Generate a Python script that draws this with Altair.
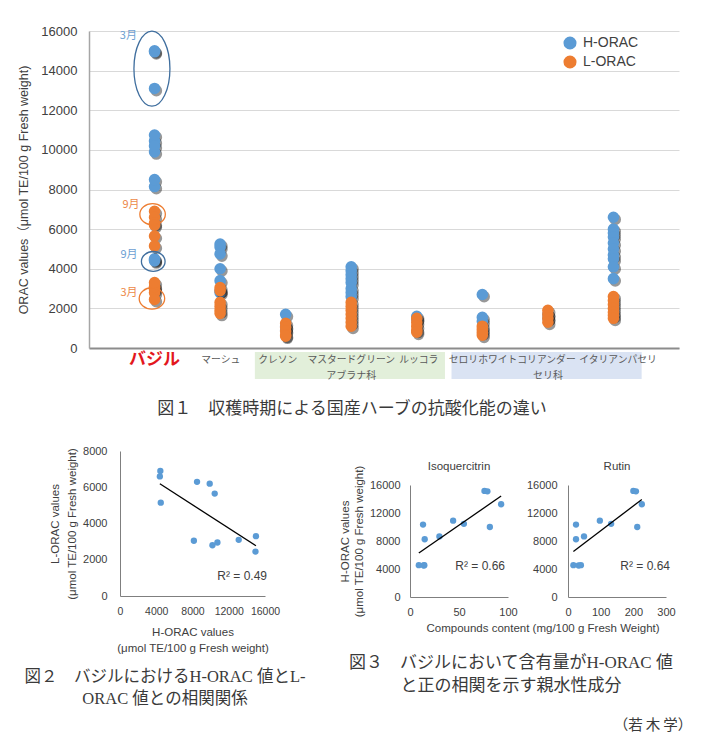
import altair as alt
import pandas as pd

# ---------------- Figure 1 data ----------------
categories = ["バジル", "マーシュ", "クレソン", "マスタードグリーン", "ルッコラ",
              "セロリ", "ホワイトコリアンダー", "イタリアンパセリ"]
# label centres (in category-index units), packed like the original text boxes
label_idx = [1.0, 2.01, 2.88, 4.0, 5.03, 5.71, 6.68, 8.07]
series_names = ["H-ORAC", "L-ORAC"]

basil_h = [4450, 4400, 4500, 8150, 8500, 9900, 10450, 10200, 10750, 13100, 15000, 14950]
basil_l = [6900, 6600, 5150, 3050, 6300, 6200, 5650, 2800, 2950, 3100, 3300, 2450]
marsh_h = [5250, 5100, 4750, 4000, 3400, 2900, 2800]
marsh_l = [3050, 2900, 2300, 2100, 1900, 1750]
cress_h = [1700, 1100, 900]
cress_l = [1250, 1050, 850, 650, 600]
mustard_h = [4100, 3900, 3700, 3500, 3300, 3000, 2800, 2600]
mustard_l = [2300, 2100, 1900, 1700, 1500, 1300, 1100]
rucola_h = [1600, 1450]
rucola_l = [1500, 1300, 1100, 900, 800]
celery_h = [2700, 1550, 1350]
celery_l = [1100, 950, 800, 650]
coriander_h = [1700, 1500]
coriander_l = [1900, 1700, 1500, 1300]
parsley_h = [6600, 6000, 5800, 5600, 5300, 5000, 4700, 4500, 4100, 3500]
parsley_l = [2600, 2400, 2200, 2000, 1800, 1650, 1500]

family_names = ["アブラナ科", "セリ科"]
family_first = [3, 6]
family_last = [5, 8]

# harvest-month annotations (basil)
ann_text = ["3月", "9月", "9月", "3月"]
ann_series = ["H-ORAC", "L-ORAC", "H-ORAC", "L-ORAC"]
ann_idx = [0.6, 0.64, 0.61, 0.61]
ann_value = [15750, 7220, 4690, 2780]
ell_kind = ["tall", "small", "small", "small"]
ell_idx = [0.96, 0.97, 0.98, 0.96]
ell_value = [14100, 6750, 4370, 2500]

# ---------------- Figure 2 / 3 data ----------------
fig3_h = [4550, 4500, 4550, 10350, 8250, 8650, 10900, 10450, 15150, 15100, 10000, 13250]
isoquercitrin = [9, 14, 14.6, 13.3, 15, 30, 44, 55, 76, 79, 81.5, 93]
rutin = [16.5, 32.5, 39.5, 24.5, 24.5, 49, 97.5, 132, 200, 208, 212, 226]
r2_labels = ["R² = 0.49", "R² = 0.66", "R² = 0.64"]

cap1 = "図１　収穫時期による国産ハーブの抗酸化能の違い"
cap2 = ["図２　バジルにおけるH-ORAC 値とL-", "ORAC 値との相関関係"]
cap3 = ["図３　バジルにおいて含有量がH-ORAC 値", "と正の相関を示す親水性成分"]
author = "（若\u2009木\u2009学）"

# ---------------- styles ----------------
LAT = "Liberation Sans, Noto Sans CJK JP"
JP = "Noto Sans CJK JP"
CAP = "Liberation Serif, Noto Sans CJK JP"
BLUE = "#5b9bd5"
ORANGE = "#ed7d31"
TXT = "#404040"

# ---------------- build fig1 table ----------------
h_lists = [basil_h, marsh_h, cress_h, mustard_h, rucola_h, celery_h, coriander_h, parsley_h]
l_lists = [basil_l, marsh_l, cress_l, mustard_l, rucola_l, celery_l, coriander_l, parsley_l]
rows = []
for i, name in enumerate(categories):
    for v in h_lists[i]:
        rows.append({"idx": i + 1, "herb": name, "series": "H-ORAC", "value": v})
for i, name in enumerate(categories):
    for v in l_lists[i]:
        rows.append({"idx": i + 1, "herb": name, "series": "L-ORAC", "value": v})
df1 = pd.DataFrame(rows)
cat_df = pd.DataFrame({"idx": list(range(1, len(categories) + 1)), "lx": label_idx, "name": categories})
fam_df = pd.DataFrame({"family": family_names, "first": family_first, "last": family_last})
ann_df = pd.DataFrame({"text": ann_text, "series": ann_series, "idx": ann_idx, "value": ann_value})
ell_df = pd.DataFrame({"kind": ell_kind, "series": ann_series, "idx": ell_idx, "value": ell_value})

x_axis_top = alt.Axis(labels=False, ticks=False, grid=False, title=None,
                      domainColor="#8c8c8c", domainWidth=2)
x_top = alt.X("idx:Q", scale=alt.Scale(domain=[0, 9]), axis=x_axis_top)
y_top = alt.Y("value:Q", scale=alt.Scale(domain=[0, 16000]),
              axis=alt.Axis(values=list(range(0, 16001, 2000)), format="d",
                            labelFont=LAT, labelFontSize=13, labelColor=TXT,
                            ticks=False, labelPadding=12, gridColor="#d9d9d9",
                            domainColor="#a6a6a6", domainWidth=1.5,
                            title="ORAC values（μmol TE/100 g Fresh weight)",
                            titleFont=LAT, titleFontSize=12.5, titleFontWeight="normal",
                            titleColor=TXT, titlePadding=10))
color_enc = alt.Color("series:N", scale=alt.Scale(domain=series_names, range=[BLUE, ORANGE]),
                      legend=alt.Legend(title=None, orient="none", legendX=474, legendY=5,
                                        labelFont=LAT, labelFontSize=14, labelColor=TXT,
                                        symbolType="circle", symbolSize=170, symbolStrokeWidth=0,
                                        symbolOpacity=1, rowPadding=5, padding=0, labelOffset=6))

base1 = alt.Chart(df1)
layers = []

# family boxes below the axis
fam_base = alt.Chart(fam_df).transform_calculate(x0="datum.first - 0.47", x1="datum.last + 0.43",
                                                 xm="(datum.first + datum.last) / 2")
for fam, col in zip(family_names, ["#e2efda", "#dae3f3"]):
    layers.append(fam_base.transform_filter(alt.datum.family == fam).mark_rect(color=col).encode(
        x=alt.X("x0:Q", scale=alt.Scale(domain=[0, 9]), axis=x_axis_top),
        x2="x1:Q", y=alt.value(321), y2=alt.value(348)))
layers.append(fam_base.mark_text(font=JP, fontSize=10, color="#595959", baseline="middle").encode(
    x=alt.X("xm:Q", scale=alt.Scale(domain=[0, 9]), axis=x_axis_top),
    y=alt.value(345), text="family:N"))

# category labels
x_lab = alt.X("lx:Q", scale=alt.Scale(domain=[0, 9]), axis=x_axis_top)
layers.append(alt.Chart(cat_df).transform_filter("datum.idx == 1").mark_text(
    font=JP, fontSize=17, fontWeight="bold", color="#e3171e", baseline="middle").encode(
    x=x_lab, y=alt.value(329), text="name:N"))
layers.append(alt.Chart(cat_df).transform_filter("datum.idx > 1").mark_text(
    font=JP, fontSize=9.8, color="#595959", baseline="middle").encode(
    x=x_lab, y=alt.value(329), text="name:N"))

# points with shadows
for s in series_names:
    src = base1.transform_filter(alt.datum.series == s)
    layers.append(src.mark_circle(size=135, color="#1a1a1a", opacity=0.45, xOffset=1.8, yOffset=2.2)
                  .encode(x=x_top, y=y_top))
    layers.append(src.mark_circle(size=135, opacity=1).encode(x=x_top, y=y_top, color=color_enc))

# ellipses
TALL = "M0,-1A0.48,1,0,1,1,0,1A0.48,1,0,1,1,0,-1Z"
SMALL = "M-1,0A1,0.84,0,1,1,1,0A1,0.84,0,1,1,-1,0Z"
layers.append(alt.Chart(ell_df).transform_filter("datum.kind == 'tall'").mark_point(
    shape=TALL, size=5625, filled=False, stroke="#3f6e9e", strokeWidth=1.3, opacity=1).encode(x=x_top, y=y_top))
layers.append(alt.Chart(ell_df).transform_filter("datum.kind == 'small' && datum.series == 'H-ORAC'").mark_point(
    shape=SMALL, size=560, filled=False, stroke="#3f6e9e", strokeWidth=1.3, opacity=1).encode(x=x_top, y=y_top))
layers.append(alt.Chart(ell_df).transform_filter("datum.kind == 'small' && datum.series == 'L-ORAC'").mark_point(
    shape=SMALL, size=650, filled=False, stroke=ORANGE, strokeWidth=1.3, opacity=1).encode(x=x_top, y=y_top))
layers.append(alt.Chart(ann_df).transform_filter(alt.datum.series == "H-ORAC").mark_text(
    font=JP, fontSize=11, color="#6d9fd3", baseline="middle").encode(x=x_top, y=y_top, text="text:N"))
layers.append(alt.Chart(ann_df).transform_filter(alt.datum.series == "L-ORAC").mark_text(
    font=JP, fontSize=11, color="#ed8a4a", baseline="middle").encode(x=x_top, y=y_top, text="text:N"))

# caption 1
layers.append(alt.Chart(pd.DataFrame({"t": [cap1]})).mark_text(
    font=CAP, fontSize=17, color="#3a3a3a", baseline="middle").encode(
    x=alt.value(263), y=alt.value(378), text="t:N"))

top = alt.layer(*layers).properties(width=590, height=317)

# ---------------- Figure 2 ----------------
axis_common = dict(labelFont=LAT, labelFontSize=11, labelColor=TXT, ticks=False, grid=False,
                   domainColor="#7f7f7f", domainWidth=1, titleFont=LAT, titleFontSize=11.5,
                   titleFontWeight="normal", titleColor=TXT, labelOverlap=False, labelFlush=False)
axis_fig2x = dict(axis_common, labelFontSize=10.5)
df2 = pd.DataFrame({"h": basil_h, "l": basil_l})
x2 = alt.X("h:Q", scale=alt.Scale(domain=[0, 16000], range=[31, 176]),
           axis=alt.Axis(values=[0, 4000, 8000, 12000, 16000], format="d", labelPadding=10,
                         title=["H-ORAC values", "(μmol TE/100 g Fresh weight)"], titlePadding=10,
                         titleLineHeight=16, **axis_fig2x))
y2 = alt.Y("l:Q", scale=alt.Scale(domain=[0, 8000]),
           axis=alt.Axis(values=[0, 2000, 4000, 6000, 8000], format="d", labelPadding=13,
                         offset=-31,
                         title=["L-ORAC values", "(μmol TE/100 g Fresh weight)"], titlePadding=5,
                         titleLineHeight=17, **axis_common))
b2 = alt.Chart(df2)
fig2 = alt.layer(
    b2.mark_circle(size=40, color=BLUE, opacity=1).encode(x=x2, y=y2),
    b2.transform_regression("h", "l").mark_line(color="black", strokeWidth=1.3).encode(x=x2, y=y2),
    alt.Chart(pd.DataFrame({"t": [r2_labels[0]]})).mark_text(
        font=LAT, fontSize=12, color=TXT, align="right", baseline="middle").encode(
        x=alt.value(178), y=alt.value(125), text="t:N"),
    alt.Chart(pd.DataFrame({"t": [cap2]})).mark_text(
        font=CAP, fontSize=16.5, color="#3a3a3a", baseline="middle", lineHeight=22).encode(
        x=alt.value(76), y=alt.value(226), text="t:N"),
).properties(width=176, height=145)

# ---------------- Figure 3 ----------------
df3 = pd.DataFrame({"iso": isoquercitrin, "rut": rutin, "h": fig3_h})
b3 = alt.Chart(df3)
y3_axis_title = alt.Axis(values=[0, 4000, 8000, 12000, 16000], format="d", labelPadding=10,
                         title=["H-ORAC values", "(μmol TE/100 g Fresh weight)"], titlePadding=5,
                         titleLineHeight=14, **axis_common)
y3_axis = alt.Axis(values=[0, 4000, 8000, 12000, 16000], format="d", labelPadding=11,
                   title=None, **axis_common)
y3a = alt.Y("h:Q", scale=alt.Scale(domain=[0, 16000], range=[146, 34]), axis=y3_axis_title)
y3b = alt.Y("h:Q", scale=alt.Scale(domain=[0, 16000], range=[146, 34]), axis=y3_axis)
x3a = alt.X("iso:Q", scale=alt.Scale(domain=[0, 100]),
            axis=alt.Axis(values=[0, 50, 100], labelPadding=9, title=None, **axis_common))
x3b = alt.X("rut:Q", scale=alt.Scale(domain=[0, 300]),
            axis=alt.Axis(values=[0, 100, 200, 300], labelPadding=9, title=None, **axis_common))


def text_layer(t, x, y, size=11.5, align="center", font=LAT, color=TXT, lh=None):
    kw = dict(font=font, fontSize=size, color=color, align=align, baseline="middle")
    if lh:
        kw["lineHeight"] = lh
    return alt.Chart(pd.DataFrame({"t": [t]})).mark_text(**kw).encode(
        x=alt.value(x), y=alt.value(y), text="t:N")


iso = alt.layer(
    b3.mark_circle(size=40, color=BLUE, opacity=1).encode(x=x3a, y=y3a),
    b3.transform_regression("iso", "h").mark_line(color="black", strokeWidth=1.3).encode(x=x3a, y=y3a),
    text_layer(r2_labels[1], 95, 115, size=12, align="right"),
    text_layer("Isoquercitrin", 49, 16, size=11.5),
    text_layer("Compounds content  (mg/100 g Fresh Weight)", 133, 178, size=11.5),
    text_layer(cap3, 101, 212, size=17, font=CAP, color="#3a3a3a", lh=23),
).properties(width=98, height=146)

rut = alt.layer(
    b3.mark_circle(size=40, color=BLUE, opacity=1).encode(x=x3b, y=y3b),
    b3.transform_regression("rut", "h").mark_line(color="black", strokeWidth=1.3).encode(x=x3b, y=y3b),
    text_layer(r2_labels[2], 102, 115, size=12, align="right"),
    text_layer("Rutin", 49, 16, size=11.5),
    text_layer(author, 85, 275, size=14.5, font=CAP, color="#3a3a3a"),
).properties(width=98, height=146)

bottom = alt.hconcat(fig2, alt.hconcat(iso, rut, spacing=60, bounds="flush"),
                     spacing=145, bounds="flush")

chart = alt.vconcat(top, bottom, spacing=103, bounds="flush").configure_view(stroke=None).properties(
    padding={"left": 9, "top": 17, "right": 2, "bottom": 0})

chart.save("out.html", embed_options={"renderer": "svg", "actions": False})
